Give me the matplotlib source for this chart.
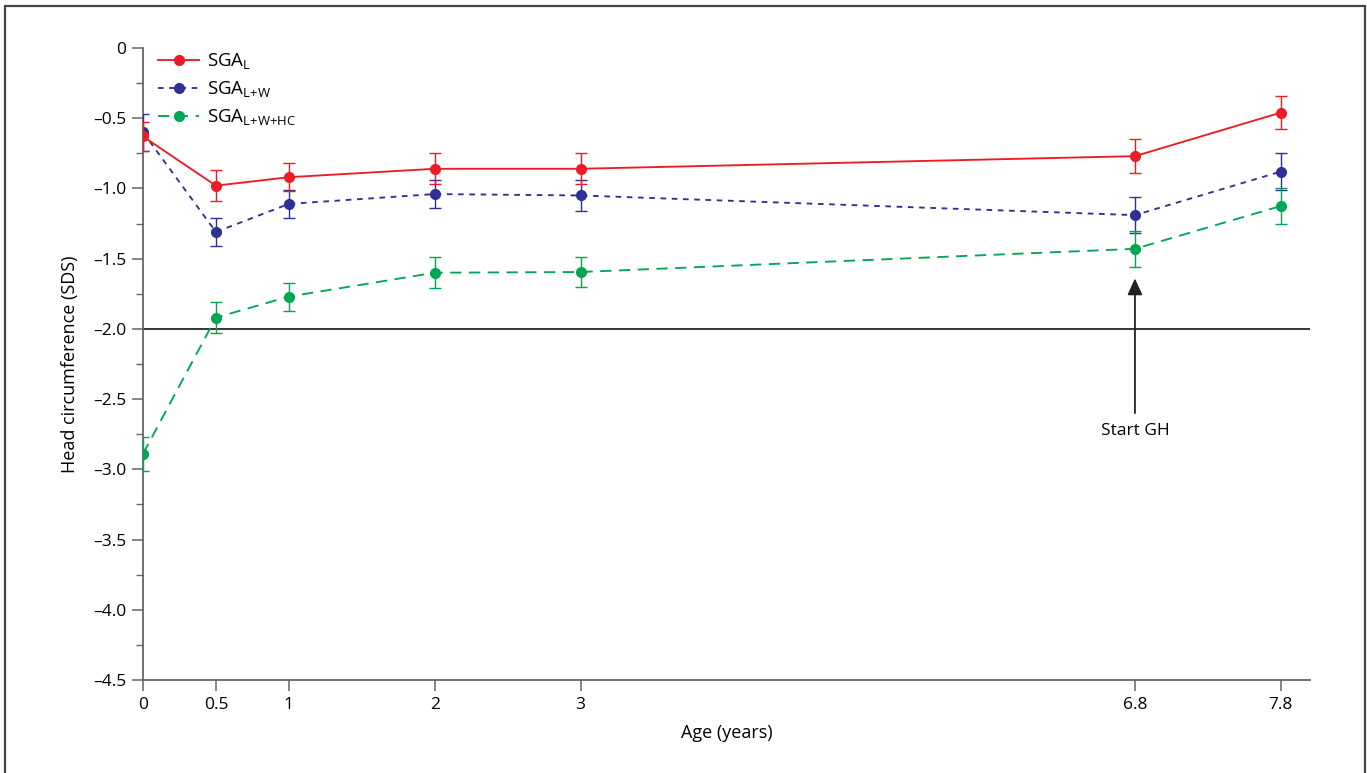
import matplotlib
matplotlib.use('Agg')
import matplotlib.pyplot as plt
from matplotlib.lines import Line2D
from matplotlib.patches import Rectangle
from matplotlib.ticker import MultipleLocator

plt.rcParams['font.family'] = ['Open Sans', 'DejaVu Sans']
plt.rcParams['mathtext.fontset'] = 'custom'
plt.rcParams['mathtext.rm'] = 'Open Sans'

# dados
idade = [0, 0.5, 1, 2, 3, 6.8, 7.8]
rotulos_x = ['0', '0.5', '1', '2', '3', '6.8', '7.8']

sga_l = [-0.63, -0.98, -0.92, -0.86, -0.86, -0.77, -0.46]
sga_l_err = [0.10, 0.11, 0.10, 0.11, 0.11, 0.12, 0.12]

sga_lw = [-0.60, -1.31, -1.11, -1.04, -1.05, -1.19, -0.88]
sga_lw_err = [0.13, 0.10, 0.10, 0.10, 0.11, 0.13, 0.13]

sga_lwhc = [-2.89, -1.92, -1.77, -1.60, -1.595, -1.43, -1.125]
sga_lwhc_err = [0.12, 0.11, 0.10, 0.11, 0.11, 0.13, 0.13]

nomes = ['SGA$_{\\mathregular{L}}$', 'SGA$_{\\mathregular{L{+}W}}$', 'SGA$_{\\mathregular{L{+}W{+}HC}}$']

vermelho = '#ED1C24'
azul = '#2E3192'
verde = '#00A651'

fig = plt.figure(figsize=(13.67, 7.73), dpi=100)
ax = fig.add_axes([0.1046, 0.1203, 0.8537, 0.8176])

# moldura em volta da figura (sem a linha de baixo)
fig.add_artist(Rectangle((0.0037, -0.05), 0.9949, 1.042, transform=fig.transFigure,
                         fill=False, edgecolor='#444444', linewidth=1.6))

ax.axhline(-2.0, color='black', linewidth=1.1, zorder=1)

series = [
    (sga_l, sga_l_err, vermelho, '-', 4),
    (sga_lw, sga_lw_err, azul, (0, (3, 3)), 3),
    (sga_lwhc, sga_lwhc_err, verde, (0, (6, 4)), 3),
]
handles = []
for (vals, errs, cor, estilo, z), nome in zip(series, nomes):
    ax.errorbar(idade, vals, yerr=errs, color=cor, linestyle=estilo, linewidth=1.35,
                marker='o', markersize=7, capsize=4, elinewidth=1.0, capthick=1.0, zorder=z)
    handles.append(Line2D([], [], color=cor, linestyle=estilo, linewidth=1.35,
                          marker='o', markersize=7, label=nome))

# seta do início do GH
ax.annotate('', xy=(6.8, -1.62), xytext=(6.8, -2.62),
            arrowprops=dict(arrowstyle='-|>,head_length=1.0,head_width=0.45',
                            color='#222222', linewidth=1.3))
ax.text(6.8, -2.73, 'Start GH', ha='center', va='center', fontsize=12.5)

ax.set_xlim(0, 8.0)
ax.set_ylim(-4.5, 0)
ax.set_xticks(idade)
ax.set_xticklabels(rotulos_x)
ax.yaxis.set_major_locator(MultipleLocator(0.5))
ax.yaxis.set_minor_locator(MultipleLocator(0.25))
ax.yaxis.set_major_formatter(lambda v, p: '0' if abs(v) < 1e-9 else f'{v:.1f}'.replace('-', '\u2013'))

for lado in ['top', 'right']:
    ax.spines[lado].set_visible(False)
for lado in ['left', 'bottom']:
    ax.spines[lado].set_color('#666666')
    ax.spines[lado].set_linewidth(1.3)

ax.tick_params(axis='both', which='major', length=8, width=1.1, color='#666666',
               labelsize=12.5, pad=4)
ax.tick_params(axis='y', which='minor', length=5, width=1.0, color='#666666')

ax.set_xlabel('Age (years)', fontsize=13, labelpad=8)
ax.set_ylabel('Head circumference (SDS)', fontsize=13, labelpad=10)

ax.legend(handles=handles, loc='upper left', bbox_to_anchor=(0.0, 1.018), frameon=False,
          fontsize=13.5, handlelength=2.2, handletextpad=0.4, labelspacing=0.4,
          borderaxespad=0.4)

fig.savefig('out.png', dpi=100)
